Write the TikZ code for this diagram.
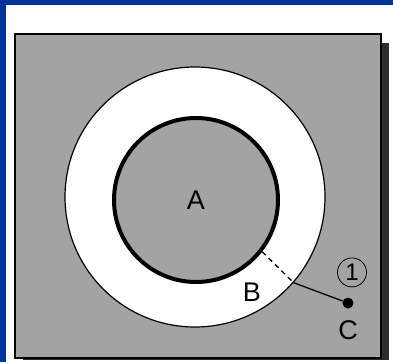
\documentclass[tikz,border=0pt]{standalone}
\usepackage{fontspec}
\setmainfont{Liberation Sans}
\usetikzlibrary{positioning}
\definecolor{slideblue}{RGB}{0,51,153}
\definecolor{plategray}{RGB}{163,163,163}
\definecolor{shadowgray}{RGB}{45,45,45}

\tikzset{
  lbl/.style={font=\fontsize{27}{30}\selectfont, inner sep=0pt},
  ring/.style={circle, draw=black, inner sep=0pt}
}

\begin{document}
\begin{tikzpicture}[x=1pt, y=-1pt]
  \useasboundingbox (0,0) rectangle (393,362);
  % frame and plate
  \fill[slideblue] (0,0) rectangle (393,362);
  \fill[white] (6,5) rectangle (393,362);
  \fill[shadowgray] (23,43) rectangle (389,360);
  \draw[fill=plategray, line width=1.2pt] (15,34) rectangle (381,358);
  % rings
  \node[ring, fill=white, line width=1.2pt, minimum size=260pt] (outer) at (195,197) {};
  \node[ring, fill=plategray, line width=4pt, minimum size=164pt] (inner) at (196,200) {};
  \node[lbl] (a) at (inner.center) {A};
  \node[lbl] (b) at (252,292) {B};
  % point C
  \node[circle, fill=black, inner sep=0pt, minimum size=11pt] (dot) at (348,303) {};
  \node[lbl, below=12pt of dot] (c) {C};
  \node[circle, draw, line width=0.8pt, minimum size=29pt, inner sep=0pt,
        font=\fontsize{24}{26}\selectfont, above=10pt of dot, xshift=4pt] (one) {1};
  \draw[line width=1.3pt, dash pattern=on 5pt off 4pt] (inner.-38) -- (outer.-41);
  \draw[line width=1.3pt] (outer.-41) -- (dot);
\end{tikzpicture}
\end{document}
